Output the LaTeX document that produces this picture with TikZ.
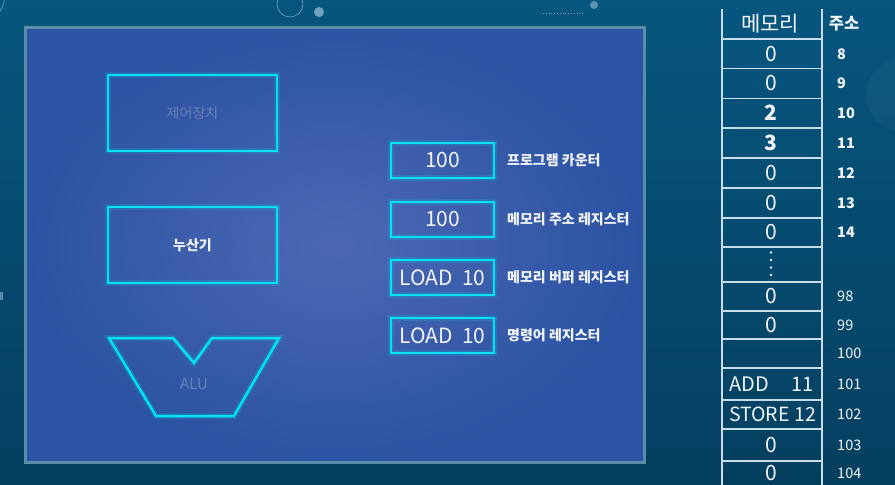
\documentclass[tikz,border=0pt]{standalone}
\usepackage{fontspec}
\setmainfont{Noto Sans CJK KR}
\newcommand\fsz[1]{\fontsize{#1bp}{#1bp}\selectfont}
\definecolor{bgtop}{HTML}{07567F}
\definecolor{bgbot}{HTML}{053F5F}
\definecolor{panelin}{HTML}{4C68B3}
\definecolor{panelout}{HTML}{2B53A3}
\definecolor{panelborder}{HTML}{5A8DA8}
\definecolor{cyanline}{HTML}{00E3F4}
\definecolor{dimtext}{HTML}{6C80B8}
\definecolor{tabline}{HTML}{C9DCEA}
\definecolor{whitetext}{HTML}{F2F5FA}
\definecolor{deco}{HTML}{6FA3C2}
\begin{document}
\begin{tikzpicture}[x=1bp,y=-1bp,
  glow/.style={draw=cyanline, line width=2.5bp,
    preaction={draw=cyanline, draw opacity=0.16, line width=6bp}},
  unitbox/.style={glow, minimum width=169bp, minimum height=76bp, inner sep=0pt, font=\fsz{14}},
  regbox/.style={glow, minimum width=103bp, minimum height=35bp, inner sep=0pt, text=whitetext, font=\fsz{21}},
  reglabel/.style={anchor=west, inner sep=0pt, text=whitetext, font=\fsz{14}\bfseries},
  memval/.style={inner sep=0pt, text=whitetext, font=\fsz{21}},
  memaddr/.style={anchor=west, inner sep=0pt, text=whitetext, font=\fsz{14.5}},
  tab/.style={draw=tabline, line width=1.5bp}]
\useasboundingbox (0,0) rectangle (895,485);
% background
\shade[top color=bgtop, bottom color=bgbot] (0,0) rectangle (895,485);
\fill[white, opacity=0.03] (902,95) circle[radius=36];
\draw[deco, line width=0.6bp] (290,4) circle[radius=13];
\fill[deco] (319,12) circle[radius=5];
\fill[deco, opacity=0.8] (594,5) circle[radius=4];
\draw[deco, dotted, line width=0.8bp] (543,13) -- (583,13);
\draw[deco, line width=0.6bp] (-28,-6) circle[radius=33];
\fill[panelborder] (0,292) rectangle (3,300);
% panel
\shade[inner color=panelin, outer color=panelout] (26,28) rectangle (644,462);
\draw[panelborder, line width=3bp] (25.5,27.5) rectangle (644,462.5);
% units
\node[unitbox, text=dimtext] (ctrl) at (192.5,113) {제어장치};
\node[unitbox, text=whitetext, font=\fsz{14}\bfseries] (acc) at (192.5,245) {누산기};
\draw[glow, line join=miter] (109,338) -- (173,338) -- (194,363) -- (212,338) -- (279,338) -- (234,416) -- (156,416) -- cycle;
\node[inner sep=0pt, text=dimtext, font=\fsz{15}] (alu) at (194,384) {ALU};
% registers
\node[regbox] (pc) at (442.5,160.5) {100};
\node[regbox] (mar) at (442.5,219.5) {100};
\node[regbox] (mbr) at (442.5,277.5) {LOAD\hspace{0.45em}10};
\node[regbox] (ir) at (442.5,335.5) {LOAD\hspace{0.45em}10};
\node[reglabel] (pcl) at (507,160) {프로그램 카운터};
\node[reglabel] (marl) at (507,219) {메모리 주소 레지스터};
\node[reglabel] (mbrl) at (507,277) {메모리 버퍼 레지스터};
\node[reglabel] (irl) at (507,335) {명령어 레지스터};
% memory table
\draw[tab] (722,9) -- (722,485);
\draw[tab] (822,9) -- (822,485);
\foreach \yy in {39,68.5,98.5,128,158,188,218,247,282,311,339,368,400,429,461}
  \draw[tab] (722,\yy) -- (822,\yy);
\node[inner sep=0pt, text=whitetext, font=\fsz{21}] (memh) at (770,24) {메모리};
\node[inner sep=0pt, text=whitetext, font=\fsz{16.5}\bfseries] (addrh) at (844,24) {주소};
\node[memval] (v8) at (771,54) {0};
\node[memval] (v9) at (771,83.5) {0};
\node[memval, font=\fsz{21}\bfseries] (v10) at (771,113) {2};
\node[memval, font=\fsz{21}\bfseries] (v11) at (771,143) {3};
\node[memval] (v12) at (771,173) {0};
\node[memval] (v13) at (771,203) {0};
\node[memval] (v14) at (771,232.5) {0};
\foreach \yy in {252.5,260,267.5,275} \fill[whitetext] (771,\yy) circle[radius=1.4];
\node[memval] (v98) at (771,296.5) {0};
\node[memval] (v99) at (771,325) {0};
\node[memval, font=\fsz{20}, anchor=west] (v101a) at (729,384) {ADD};
\node[memval, font=\fsz{20}, anchor=east] (v101b) at (814,384) {11};
\node[memval, font=\fsz{19.5}] (v102) at (772.5,414.5) {STORE 12};
\node[memval] (v103) at (771,445) {0};
\node[memval] (v104) at (771,473) {0};
\node[memaddr, font=\fsz{14.5}\bfseries] (a8) at (837,54) {8};
\node[memaddr, font=\fsz{14.5}\bfseries] (a9) at (837,83.5) {9};
\node[memaddr, font=\fsz{14.5}\bfseries] (a10) at (837,113) {10};
\node[memaddr, font=\fsz{14.5}\bfseries] (a11) at (837,143) {11};
\node[memaddr, font=\fsz{14.5}\bfseries] (a12) at (837,173) {12};
\node[memaddr, font=\fsz{14.5}\bfseries] (a13) at (837,203) {13};
\node[memaddr, font=\fsz{14.5}\bfseries] (a14) at (837,232.5) {14};
\node[memaddr] (a98) at (837,296.5) {98};
\node[memaddr] (a99) at (837,325) {99};
\node[memaddr] (a100) at (837,353.5) {100};
\node[memaddr] (a101) at (837,384) {101};
\node[memaddr] (a102) at (837,414.5) {102};
\node[memaddr] (a103) at (837,445) {103};
\node[memaddr] (a104) at (837,473) {104};
\end{tikzpicture}
\end{document}
